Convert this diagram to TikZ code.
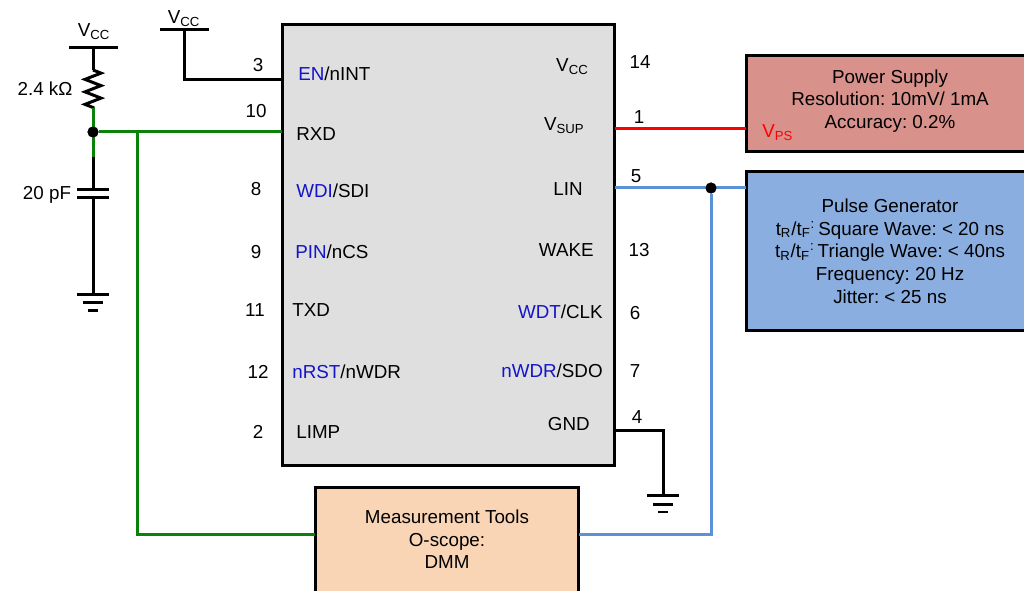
\documentclass[tikz,border=0pt]{standalone}
\usepackage{fontspec}
\setmainfont{Liberation Sans}
\usetikzlibrary{decorations.pathmorphing}
\definecolor{pinblue}{RGB}{20,20,200}
\definecolor{wiregreen}{RGB}{10,130,10}
\definecolor{wireblue}{RGB}{90,145,215}
\definecolor{icgray}{RGB}{223,223,223}
\definecolor{psred}{RGB}{217,145,140}
\definecolor{pgblue}{RGB}{138,174,224}
\definecolor{toolpeach}{RGB}{249,213,182}
\newcommand{\vsub}[1]{V\textsubscript{#1}}
\newcommand{\trtf}{t\textsubscript{R}/t\textsubscript{F}\textsuperscript{:}\,}
\frenchspacing
\begin{document}
\begin{tikzpicture}[x=0.02cm,y=-0.02cm,
        box node/.style={draw=black,line width=0.06cm,inner sep=0pt,outer sep=0pt,align=center,
          font=\fontsize{10.7}{12.9}\selectfont},
        pin num/.style={anchor=base,inner sep=0pt,font=\fontsize{10.7}{12}\selectfont},
        pin left/.style={anchor=base west,inner sep=0pt,font=\fontsize{10.7}{12}\selectfont},
        pin right/.style={anchor=base east,inner sep=0pt,font=\fontsize{10.7}{12}\selectfont},
        part val/.style={anchor=base,inner sep=0pt,font=\fontsize{10.7}{12}\selectfont},
        wire/.style={line width=0.06cm,draw=black},
        green wire/.style={line width=0.06cm,draw=wiregreen},
        blue wire/.style={line width=0.06cm,draw=wireblue},
        rail/.style={line width=0.06cm,draw=black},
        junction/.style={circle,fill=black,inner sep=0pt,minimum size=0.22cm}]
      \useasboundingbox (0,0) rectangle (1024,591);
      \clip (0,0) rectangle (1024,591);
      % boxes
      \node[box node,fill=icgray,minimum width=6.66cm,minimum height=8.84cm] (IC) at (448.5,245) {};
      \node[box node,fill=psred,minimum width=5.76cm,minimum height=1.94cm,text depth=5pt] (PS) at (890,103.5)
        {Power Supply\\Resolution: 10mV/ 1mA\\Accuracy: 0.2\%};
      \node[box node,fill=pgblue,minimum width=5.76cm,minimum height=3.2cm] (PG) at (890,251)
        {Pulse Generator\\\trtf Square Wave: < 20 ns\\\trtf Triangle Wave: < 40ns\\Frequency: 20 Hz\\Jitter: < 25 ns};
      \node[box node,fill=toolpeach,minimum width=5.28cm,minimum height=2.2cm,text depth=3pt] (MT) at (447,542)
        {Measurement Tools\\O-scope:\\DMM};
      % pin numbers
      \node[pin num] (n3) at (258,72) {3};
      \node[pin num] (n10) at (256,118) {10};
      \node[pin num] (n8) at (256,196) {8};
      \node[pin num] (n9) at (256,258) {9};
      \node[pin num] (n11) at (255,316) {11};
      \node[pin num] (n12) at (258,378) {12};
      \node[pin num] (n2) at (258,438) {2};
      \node[pin num] (n14) at (640,69) {14};
      \node[pin num] (n1) at (639,124) {1};
      \node[pin num] (n5) at (636,183) {5};
      \node[pin num] (n13) at (639,256) {13};
      \node[pin num] (n6) at (635,319) {6};
      \node[pin num] (n7) at (635,377) {7};
      \node[pin num] (n4) at (637,423) {4};
      % pin names
      \node[pin left] (EN) at (298,81) {\textcolor{pinblue}{EN}/nINT};
      \node[pin left] (RXD) at (296,141) {RXD};
      \node[pin left] (WDI) at (296,198) {\textcolor{pinblue}{WDI}/SDI};
      \node[pin left] (PIN) at (295,258) {\textcolor{pinblue}{PIN}/nCS};
      \node[pin left] (TXD) at (292,316) {TXD};
      \node[pin left] (nRST) at (292,378) {\textcolor{pinblue}{nRST}/nWDR};
      \node[pin left] (LIMP) at (296,438) {LIMP};
      \node[pin right] (VCC) at (589,72) {\vsub{CC}};
      \node[pin right] (VSUP) at (585,131) {\vsub{SUP}};
      \node[pin right] (LIN) at (583,196) {LIN};
      \node[pin right] (WAKE) at (594,256) {WAKE};
      \node[pin right] (WDT) at (603,318) {\textcolor{pinblue}{WDT}/CLK};
      \node[pin right] (nWDR) at (603,377) {\textcolor{pinblue}{nWDR}/SDO};
      \node[pin right] (GND) at (590,430) {GND};
      \node[pin left,text=red] (VPS) at (762,138) {\vsub{PS}};
      % left network
      \node[part val] (VA) at (94,37) {\vsub{CC}};
      \node[part val] (VB) at (184,24) {\vsub{CC}};
      \node[part val] (Rval) at (45,96) {2.4 kΩ};
      \node[part val] (Cval) at (47,200) {20 pF};
      \coordinate (railAl) at (69,48);
      \coordinate (railAr) at (118,48);
      \coordinate (railA) at (93,48);
      \coordinate (railBl) at (160,30);
      \coordinate (railBr) at (209,30);
      \coordinate (railB) at (184,30);
      \coordinate (Rtop) at (93,70);
      \coordinate (Rbot) at (93,108);
      \coordinate (Cgreen) at (93,157);
      \coordinate (Ctop) at (93,190);
      \coordinate (Cbot) at (93,198);
      \coordinate (gndA) at (93,294);
      \coordinate (gndB) at (663,495);
      \coordinate (pinEN) at (282,80);
      \coordinate (pinRXD) at (282,132);
      \coordinate (pinSUP) at (615,129);
      \coordinate (pinLIN) at (615,188);
      \coordinate (pinGND) at (615,430);
      \coordinate (branch) at (137,132);
      \coordinate (toolL) at (315,534);
      \coordinate (toolR) at (579,534);
      \node[junction] (dotL) at (93,132) {};
      \node[junction] (dotR) at (711,188) {};
      \path[rail] (railAl) edge (railAr) (railBl) edge (railBr);
      \draw[wire] (railA) -- (Rtop);
      \draw[wire,decorate,decoration={zigzag,segment length=0.25cm,amplitude=0.16cm}] (Rtop) -- (Rbot);
      \draw[wire] (railB) |- (pinEN);
      \draw[wire] (Cgreen) -- (Ctop);
      \draw[green wire] (Rbot) -- (Cgreen);
      \draw[green wire] (dotL) -- (pinRXD);
      \draw[green wire] (branch) |- (toolL);
      \draw[wire] (Cbot) -- (gndA);
      \draw[wire] (77,190) -- (109,190);
      \draw[wire] (77,198) -- (109,198);
      \draw[wire] (pinGND) -| (gndB);
      % grounds
      \foreach \g in {gndA,gndB}{
        \draw[wire] ([xshift=-0.32cm]\g) -- ([xshift=0.32cm]\g);
        \draw[wire] ([xshift=-0.2cm,yshift=-0.18cm]\g) -- ([xshift=0.2cm,yshift=-0.18cm]\g);
        \draw[wire] ([xshift=-0.1cm,yshift=-0.34cm]\g) -- ([xshift=0.1cm,yshift=-0.34cm]\g);
      }
      \draw[line width=0.06cm,red] (pinSUP) -- (pinSUP -| PS.west);
      \draw[blue wire] (pinLIN) -- (pinLIN -| PG.west);
      \draw[blue wire] (dotR) |- (toolR);
      \node[junction] at (dotL) {};
      \node[junction] at (dotR) {};
\end{tikzpicture}
\end{document}
